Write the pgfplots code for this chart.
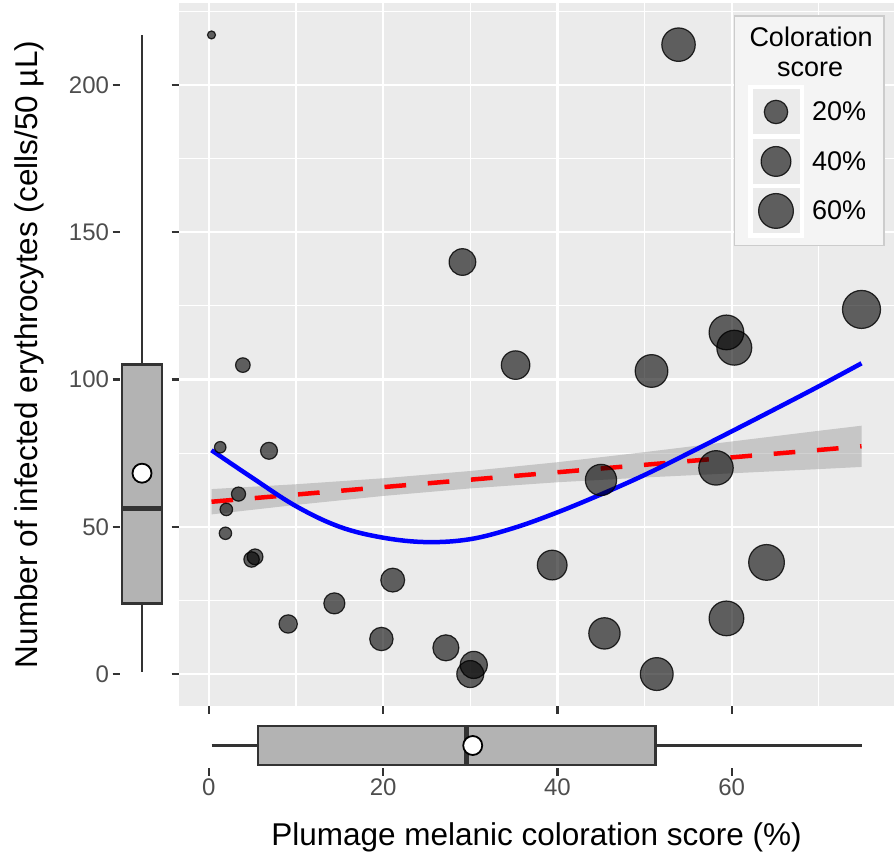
\documentclass[border=0pt]{standalone}
\usepackage{fontspec}
\setmainfont{Liberation Sans}
\usepackage{pgfplots}
\pgfplotsset{compat=1.18}
\usepackage{pgfplotstable}

\definecolor{panelbg}{HTML}{EBEBEB}
\definecolor{tickcol}{HTML}{333333}
\definecolor{ticklab}{HTML}{4D4D4D}
\definecolor{boxfill}{HTML}{B3B3B3}
\definecolor{boxedge}{HTML}{333333}
\definecolor{bandcol}{HTML}{999999}
\definecolor{legbg}{HTML}{F4F4F4}
\definecolor{legborder}{HTML}{CCCCCC}
\definecolor{keybg}{HTML}{EBEBEB}

% coloration score (%) vs infected erythrocytes
\pgfplotstableread{
x y
0.3 217.0
53.9 213.7
29.1 139.9
3.9 104.9
1.3 77.0
6.9 75.8
3.4 61.1
2.0 55.9
1.9 47.8
4.9 38.9
5.3 39.8
9.1 17.0
14.4 24.0
19.8 11.9
21.1 31.9
35.2 104.9
50.8 102.9
59.4 116.0
60.3 110.8
74.9 123.8
45.0 65.9
58.2 70.0
39.4 37.0
64.0 37.9
45.4 13.8
59.4 18.9
51.4 0.0
27.2 8.9
30.4 3.1
30.0 0.0
}\pts

% smooth (loess-like) curve
\pgfplotstableread{
x y
0.3 76.0
5 66.6
10 57.0
15 50.0
20 46.3
25 44.8
30 45.8
35 49.6
40 54.9
45 61.0
50 67.6
55 74.9
60 82.4
65 90.0
70 97.7
74.9 105.5
}\curve

\pgfplotsset{
  tickfont/.style={font=\fontsize{24}{28}\selectfont},
  keyimg/.style={legend image code/.code={
    \fill[white,draw=none,overlay] (-4.5pt,-18.2pt) rectangle (51.5pt,35.8pt);
    \fill[keybg,draw=none,overlay] (0pt,-13.7pt) rectangle (47pt,31.3pt);
    \path[draw=none,fill=none] (0pt,-13pt) rectangle (47pt,32.5pt);
    \draw[##1] plot coordinates {(23.5pt,8.8pt)};
  }},
  bxline/.style={draw=boxedge, line width=2.4pt, forget plot},
}

\begin{document}
\begin{tikzpicture}
\useasboundingbox (0,0) rectangle (896pt,857pt);

% ---- main scatter panel ----
\begin{axis}[
  at={(179pt,151pt)}, anchor=south west,
  scale only axis, width=715pt, height=703pt,
  xmin=-3.43, xmax=78.63, ymin=-10.85, ymax=227.85,
  axis background/.style={fill=panelbg},
  axis line style={draw=none},
  xtick={0,20,40,60}, ytick={0,50,100,150,200},
  minor xtick={10,30,50,70}, minor ytick={25,75,125,175,225},
  xticklabels={}, yticklabels={},
  grid=both,
  major grid style={white, line width=2.2pt},
  minor grid style={white, line width=1.1pt},
  tick pos=left, tick align=outside,
  major tick length=7.5pt, minor tick length=0pt,
  major tick style={tickcol, line width=2.3pt},
  legend style={
    at={(0.9874,0.9829)}, anchor=north east,
    fill=legbg, draw=legborder, line width=1.5pt,
    inner xsep=18pt, inner ysep=12.5pt,
    row sep=4pt, column sep=12.7pt,
    font=\fontsize{27}{30}\selectfont,
    nodes={inner sep=0pt, text height=18.5pt, text depth=7.5pt},
    cells={anchor=base west},
  },
]
\addplot[forget plot, scatter, only marks, mark=*,
  visualization depends on={4+15*sqrt(max(\thisrow{x}-0.3,0)/74.6) \as \ms},
  scatter/use mapped color={draw=black, fill=black},
  scatter/@pre marker code/.append style={/tikz/mark size=\ms},
  mark options={fill opacity=0.6, draw opacity=0.8, line width=1.2pt}]
  table[x=x, y=y] {\pts};

% linear fit: 95% band and line
\addplot[forget plot, draw=none, fill=bandcol, fill opacity=0.45]
  coordinates {(0.3,54.2)(10,57.44)(20,60.47)(30,63.04)(40,65.12)(50,66.74)(60,68.16)(70,69.59)(74.9,70.32)
               (74.9,84.32)(70,82.59)(60,78.96)(50,75.34)(40,71.92)(30,68.94)(20,66.47)(10,64.44)(0.3,62.8)} -- cycle;

\addplot[forget plot, red, line width=4.5pt, dash pattern=on 21.7pt off 21.7pt]
  coordinates {(0.3,58.50)(74.9,77.32)};

\addplot[forget plot, blue, line width=4.5pt, smooth, tension=0.6] table[x=x, y=y] {\curve};

\addlegendimage{empty legend}
\addlegendentry{\makebox[54pt][l]{\hspace*{-62.7pt}Coloration}}
\addlegendimage{empty legend}
\addlegendentry{\makebox[54pt][l]{\hspace*{-35pt}score}}
\addlegendimage{keyimg, only marks, mark=*, mark size=11.7pt,
  mark options={fill=black, fill opacity=0.6, draw=black, draw opacity=0.8, line width=1.2pt}}
\addlegendentry{20\%}
\addlegendimage{keyimg, only marks, mark=*, mark size=14.9pt,
  mark options={fill=black, fill opacity=0.6, draw=black, draw opacity=0.8, line width=1.2pt}}
\addlegendentry{40\%}
\addlegendimage{keyimg, only marks, mark=*, mark size=17.4pt,
  mark options={fill=black, fill opacity=0.6, draw=black, draw opacity=0.8, line width=1.2pt}}
\addlegendentry{60\%}
\end{axis}

% ---- marginal boxplot of y (whiskers 0.8 / 216.9, box 24.0-105.1, median 56.2, mean 68.2) ----
\begin{axis}[
  at={(120pt,151pt)}, anchor=south west,
  scale only axis, width=46pt, height=703pt,
  xmin=120, xmax=166, ymin=-10.85, ymax=227.85,
  axis line style={draw=none}, clip=false,
  xtick=\empty, ytick={0,50,100,150,200},
  tick pos=left, tick align=outside, major tick length=7.5pt,
  major tick style={tickcol, line width=2.3pt},
  /pgf/number format/assume math mode=true,
  yticklabel style={tickfont, text=ticklab},
  ylabel={Number of infected erythrocytes (cells/50 µL)},
  ylabel style={at={(axis description cs:-1.783,0.5)}, anchor=base,
    font=\fontsize{31.5}{36}\selectfont},
]
\addplot[bxline] coordinates {(142,105.1)(142,216.9)};
\addplot[bxline] coordinates {(142,0.8)(142,24.0)};
\addplot[bxline, fill=boxfill] coordinates {(121.8,24.0)(162.2,24.0)(162.2,105.1)(121.8,105.1)} -- cycle;
\addplot[bxline, line width=4.8pt] coordinates {(121.8,56.2)(162.2,56.2)};
\addplot[only marks, mark=*, mark size=9.5pt,
  mark options={fill=white, draw=black, line width=1.8pt}] coordinates {(142,68.2)};
\end{axis}

% ---- marginal boxplot of x (whiskers 0.3 / 74.9, box 5.65-51.25, median 29.55, mean 30.28) ----
\begin{axis}[
  at={(179pt,89pt)}, anchor=south west,
  scale only axis, width=715pt, height=46pt,
  xmin=-3.43, xmax=78.63, ymin=0, ymax=46,
  axis line style={draw=none}, clip=false,
  ytick=\empty, xtick={0,20,40,60},
  tick pos=left, tick align=outside, major tick length=7.5pt,
  major tick style={tickcol, line width=2.3pt},
  /pgf/number format/assume math mode=true,
  xticklabel style={tickfont, text=ticklab},
  xlabel={Plumage melanic coloration score (\%)},
  xlabel style={at={(axis description cs:0.5,-1.674)}, anchor=base,
    font=\fontsize{31.5}{36}\selectfont},
]
\addplot[bxline] coordinates {(0.3,22.5)(5.65,22.5)};
\addplot[bxline] coordinates {(51.25,22.5)(74.9,22.5)};
\addplot[bxline, fill=boxfill] coordinates {(5.65,3.2)(51.25,3.2)(51.25,41.8)(5.65,41.8)} -- cycle;
\addplot[bxline, line width=4.8pt] coordinates {(29.55,3.2)(29.55,41.8)};
\addplot[only marks, mark=*, mark size=9.5pt,
  mark options={fill=white, draw=black, line width=1.8pt}] coordinates {(30.28,22.5)};
\end{axis}
\end{tikzpicture}
\end{document}
